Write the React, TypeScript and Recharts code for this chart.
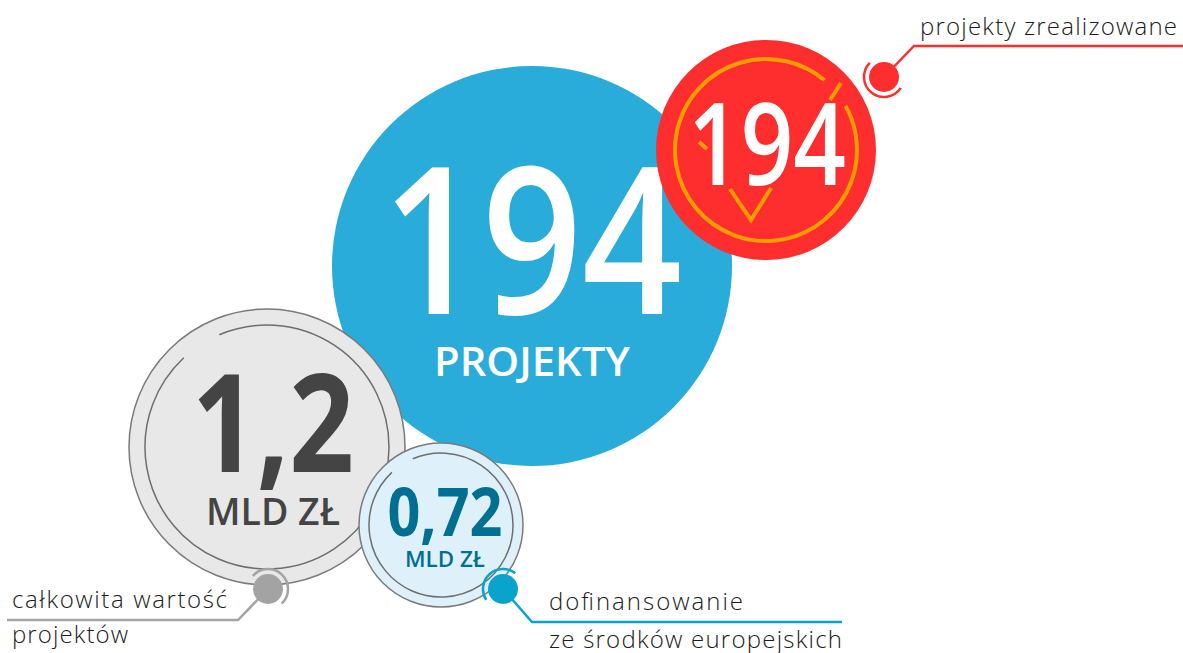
import React from 'react';
import { ScatterChart, Scatter, XAxis, YAxis } from 'recharts';

const W = 1183;
const H = 653;

// values shown in the bubbles
const bubbleIds = ['projekty', 'zrealizowane', 'wartosc', 'dofinansowanie'];
const bubbleValues = ['194', '194', '1,2', '0,72'];
const bubbleUnits = ['PROJEKTY', '', 'MLD ZŁ', 'MLD ZŁ'];

// callout captions
const calloutIds = ['zrealizowane', 'wartosc', 'dofinansowanie'];
const calloutLabels = [
  ['projekty zrealizowane'],
  ['całkowita wartość', 'projektów'],
  ['dofinansowanie', 'ze środków europejskich'],
];

// layout (chart units = px)
const bubbleLayout: Record<string, any> = {
  projekty: { x: 532, y: 266, r: 200, fill: '#29acd9', ring: null, valueColor: '#fff', valueSize: 205, valueWeight: 600, valueDy: 48, valueLen: 300, valueDx: 0, unitSize: 40, unitDy: 110, unitLen: 196, unitWeight: 600 },
  zrealizowane: { x: 766, y: 150, r: 110, fill: '#fe2e2e', ring: null, valueColor: '#fff', valueSize: 115, valueWeight: 600, valueDy: 35, valueLen: 158, valueDx: 1 },
  wartosc: { x: 267, y: 447, r: 138, fill: '#e8e8e8', stroke: '#7a7a7a', ring: 122, valueColor: '#444', valueSize: 137, valueWeight: 700, valueDy: 25, valueLen: 162, valueDx: 6, unitSize: 37, unitDy: 78, unitLen: 134, unitWeight: 600 },
  dofinansowanie: { x: 441, y: 525, r: 82, fill: '#def1fb', stroke: '#7a7a7a', ring: 72, valueColor: '#006f92', valueSize: 66, valueWeight: 700, valueDy: 11, valueLen: 115, valueDx: 4, unitSize: 22, unitDy: 42, unitLen: 80, unitWeight: 600 },
};

const calloutLayout: Record<string, any> = {
  zrealizowane: { x: 884, y: 77, color: '#fe2e2e', arc: [135, 327], elbow: [914, 46], end: W, labelX: 920, baselines: [35], labelLen: [257] },
  wartosc: { x: 268, y: 589, color: '#a3a3a3', arc: [-47, 139], elbow: [238, 620], end: 7, labelX: 12, baselines: [608, 643], labelLen: [215, 116] },
  dofinansowanie: { x: 503, y: 589, color: '#0aa3cb', arc: [52, 213], elbow: [532, 622], end: 842, labelX: 549, baselines: [610, 648], labelLen: [194, 293] },
};

const bubbleData = bubbleIds.map((id, i) => ({
  id,
  value: bubbleValues[i],
  unit: bubbleUnits[i],
  ...bubbleLayout[id],
}));

const calloutData = calloutIds.map((id, i) => ({
  id,
  lines: calloutLabels[i],
  ...calloutLayout[id],
}));

const pt = (cx: number, cy: number, r: number, deg: number) => {
  const a = (deg * Math.PI) / 180;
  return [cx + r * Math.cos(a), cy - r * Math.sin(a)];
};

// counter-clockwise arc (math sense) from a1 to a2
const arcPath = (cx: number, cy: number, r: number, a1: number, a2: number) => {
  let span = a2 - a1;
  while (span < 0) span += 360;
  const [x1, y1] = pt(cx, cy, r, a1);
  const [x2, y2] = pt(cx, cy, r, a1 + span);
  return `M${x1},${y1} A${r},${r} 0 ${span > 180 ? 1 : 0} 0 ${x2},${y2}`;
};

const numFont = '"Open Sans", "Noto Sans", sans-serif';
const labelFont = '"Open Sans", Lato, sans-serif';

function Bubble(props: any) {
  const { cx, cy, payload: p } = props;
  return (
    <g>
      <circle cx={cx} cy={cy} r={p.r} fill={p.fill} stroke={p.stroke || 'none'} strokeWidth={1.5} />
      {p.ring && (
        <path d={arcPath(cx, cy, p.ring, 133, 113)} fill="none" stroke="#6e6e6e" strokeWidth={1.5} />
      )}
      {p.id === 'zrealizowane' && (
        <g stroke="#ff9d00" strokeWidth={4} fill="none">
          <path d={arcPath(cx, cy, 91, 50, 29)} />
          <line x1={cx + 64} y1={cy - 50} x2={cx + 75} y2={cy - 67} />
          <line x1={cx - 67} y1={cy - 8} x2={cx - 59} y2={cy - 1} />
          <polyline points={`${cx - 36},${cy + 39} ${cx - 15},${cy + 70} ${cx + 5},${cy + 38}`} />
        </g>
      )}
      <text
        x={cx + p.valueDx}
        y={cy + p.valueDy}
        textAnchor="middle"
        fill={p.valueColor}
        fontFamily={numFont}
        fontSize={p.valueSize}
        fontWeight={p.valueWeight}
        textLength={p.valueLen}
        lengthAdjust="spacingAndGlyphs"
      >
        {p.value}
      </text>
      {p.unit && (
        <text
          x={cx + p.valueDx}
          y={cy + p.unitDy}
          textAnchor="middle"
          fill={p.valueColor}
          fontFamily={numFont}
          fontSize={p.unitSize}
          fontWeight={p.unitWeight}
          textLength={p.unitLen}
          lengthAdjust="spacingAndGlyphs"
        >
          {p.unit}
        </text>
      )}
    </g>
  );
}

function Callout(props: any) {
  const { cx, cy, payload: p } = props;
  const dx = cx - p.x;
  const dy = cy - p.y;
  const ex = p.elbow[0] + dx;
  const ey = p.elbow[1] + dy;
  return (
    <g>
      <polyline
        points={`${cx},${cy} ${ex},${ey} ${p.end + dx},${ey}`}
        fill="none"
        stroke={p.color}
        strokeWidth={2.5}
      />
      <path d={arcPath(cx, cy, 20, p.arc[0], p.arc[1])} fill="none" stroke={p.color} strokeWidth={2.5} />
      <circle cx={cx} cy={cy} r={15} fill={p.color} />
      {p.lines.map((line: string, i: number) => (
        <text
          key={i}
          x={p.labelX + dx}
          y={p.baselines[i] + dy}
          fill="#1c1c1c"
          fontFamily={labelFont}
          fontSize={24}
          fontWeight={300}
          textLength={p.labelLen[i]}
          lengthAdjust="spacing"
        >
          {line}
        </text>
      ))}
    </g>
  );
}

export default function App() {
  return (
    <div style={{ position: 'absolute', left: 0, top: 0, width: W, height: H, background: '#fff' }}>
      <ScatterChart width={W} height={H} margin={{ top: 0, right: 0, bottom: 0, left: 0 }}>
        <XAxis type="number" dataKey="x" domain={[0, W]} hide />
        <YAxis type="number" dataKey="y" domain={[0, H]} reversed hide />
        <Scatter data={bubbleData} shape={(props: any) => <Bubble {...props} />} isAnimationActive={false} />
        <Scatter data={calloutData} shape={(props: any) => <Callout {...props} />} isAnimationActive={false} />
      </ScatterChart>
    </div>
  );
}
